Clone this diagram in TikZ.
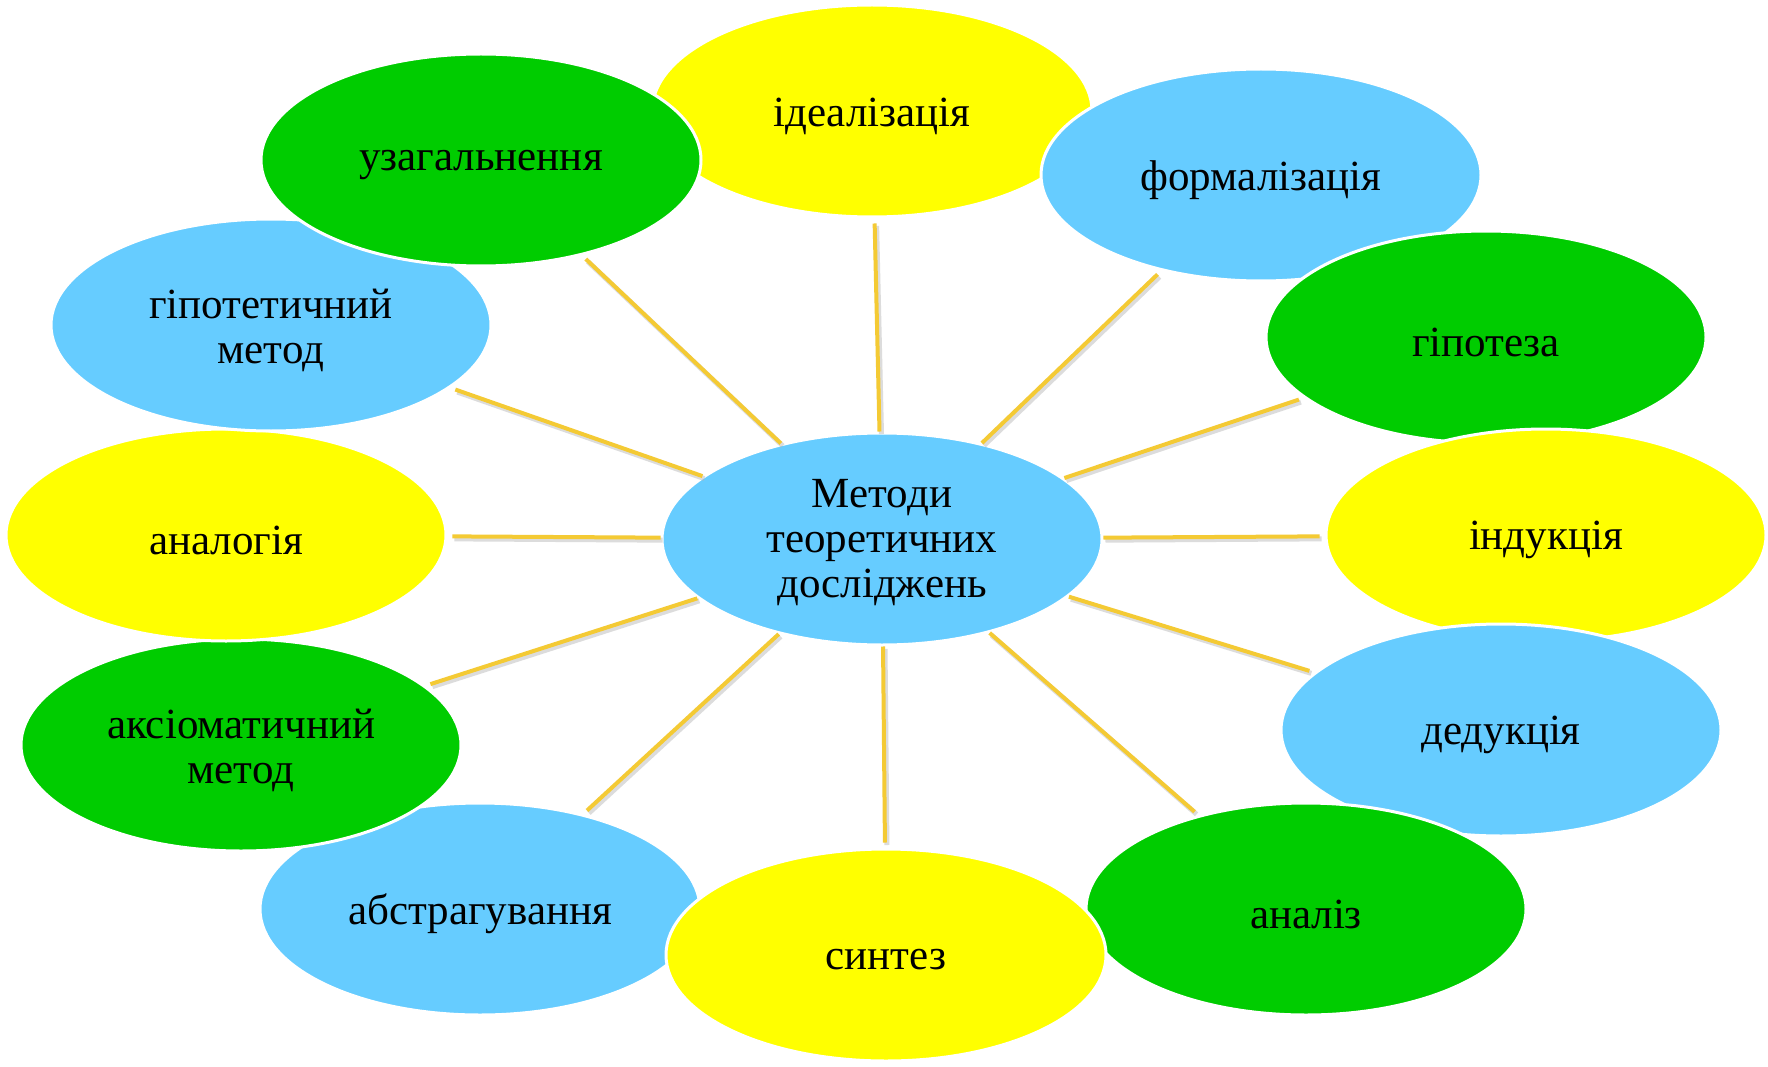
\documentclass[tikz,border=0pt]{standalone}
\usepackage{fontspec}
\setmainfont{Liberation Serif}
\usetikzlibrary{shapes.geometric}
\definecolor{cyel}{RGB}{255,255,0}
\definecolor{cgrn}{RGB}{0,204,0}
\definecolor{cblu}{RGB}{102,204,255}
\definecolor{cline}{RGB}{244,202,52}
\begin{document}
\begin{tikzpicture}[x=1pt,y=-1pt,
  oval/.style={ellipse, draw=white, line width=3pt, minimum width=440pt, minimum height=212pt,
    inner sep=0pt},
  yel/.style={oval, fill=cyel},
  grn/.style={oval, fill=cgrn},
  blu/.style={oval, fill=cblu},
  lbl/.style={inner sep=0pt, align=center, font=\fontsize{43}{45}\selectfont, text=black, yshift=-5pt},
  conn/.style={draw=cline, line width=4pt, shorten >=5pt},
  connshadow/.style={draw=black!30, line width=5pt, shorten >=5pt, opacity=0.45}
]
\useasboundingbox[fill=white] (0,0) rectangle (1768,1067);
% outer ellipses, in stacking order
\node[yel] (ideal) at (872,111) {};
\node[lbl] (ideal-t) at (ideal) {ідеалізація};
\node[blu] (abstr) at (480,909) {};
\node[lbl] (abstr-t) at (abstr) {абстрагування};
\node[grn] (aksiom) at (241,745) {};
\node[lbl] (aksiom-t) at (aksiom) {аксіоматичний\\метод};
\node[yel] (analog) at (226,535) {};
\node[lbl] (analog-t) at (analog) {аналогія};
\node[blu] (hipmet) at (271,325) {};
\node[lbl] (hipmet-t) at (hipmet) {гіпотетичний\\метод};
\node[grn] (uzag) at (481,160) {};
\node[lbl] (uzag-t) at (uzag) {узагальнення};
\node[blu] (formal) at (1261,175) {};
\node[lbl] (formal-t) at (formal) {формалізація};
\node[grn] (hipot) at (1486,337) {};
\node[lbl] (hipot-t) at (hipot) {гіпотеза};
\node[yel] (induk) at (1546,535) {};
\node[lbl] (induk-t) at (induk) {індукція};
\node[blu] (deduk) at (1501,730) {};
\node[lbl] (deduk-t) at (deduk) {дедукція};
\node[grn] (analiz) at (1306,909) {};
\node[lbl] (analiz-t) at (analiz) {аналіз};
\node[yel] (sintez) at (886,955) {};
\node[lbl] (sintez-t) at (sintez) {синтез};
% centre
\node[blu] (c) at (882,539) {};
\node[lbl, yshift=1pt] (c-t) at (c) {Методи\\теоретичних\\досліджень};
% connectors
\foreach \n in {ideal,formal,hipot,induk,deduk,analiz,sintez,abstr,aksiom,analog,hipmet,uzag}{
  \draw[connshadow, transform canvas={shift={(2pt,-2.5pt)}}] (c) -- (\n);
  \draw[conn] (c) -- (\n);
}
\end{tikzpicture}
\end{document}
